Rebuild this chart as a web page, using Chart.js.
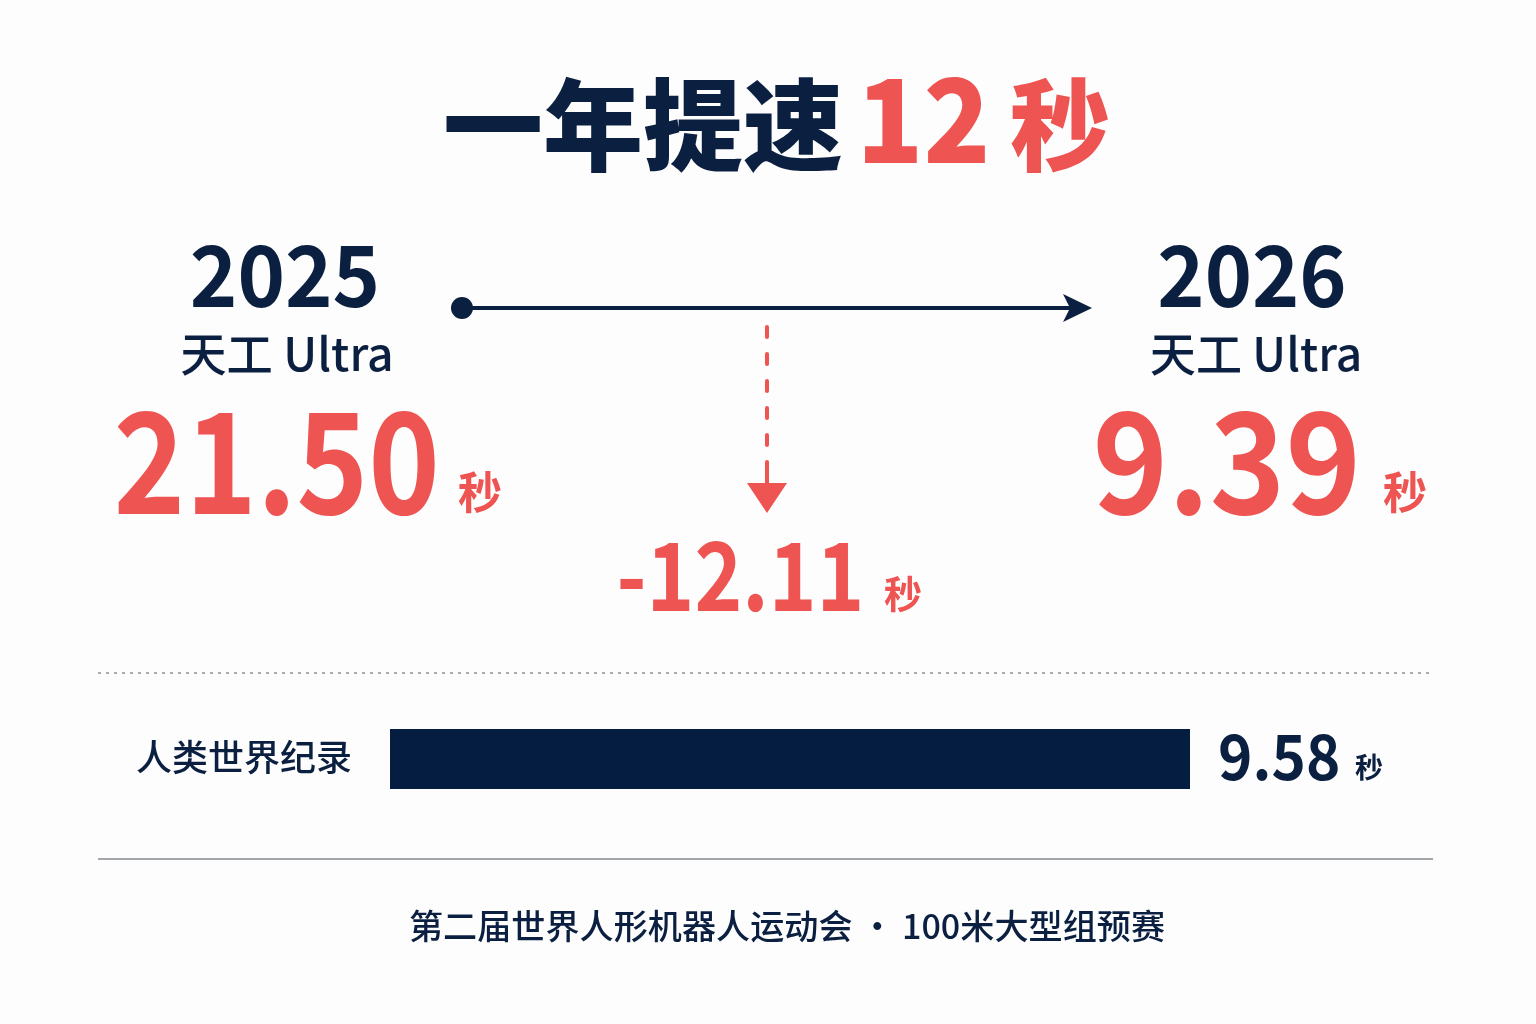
<!DOCTYPE html>
<html>
<head>
<meta charset="utf-8">
<script src="https://cdn.jsdelivr.net/npm/chart.js@4"></script>
<style>
  html, body { margin: 0; padding: 0; background: #fdfdfd; }
  #wrap { width: 1536px; height: 1024px; position: relative; }
</style>
</head>
<body>
<div id="wrap"><canvas id="chart" width="1536" height="1024"></canvas></div>
<script>
// data
const title = ['一年提速', '12', '秒'];
const years = ['2025', '2026'];
const robotName = '天工 Ultra';
const robotTimes = [21.50, 9.39];
const recordLabel = ['人类世界纪录'];
const recordTimes = [9.58];
const unit = '秒';
const footer = '第二届世界人形机器人运动会 · 100米大型组预赛';

const NAVY = '#0b1f40';
const RED = '#ee5451';
const FONT = "'Noto Sans CJK SC', 'Noto Sans', sans-serif";

function txt(ctx, s, x, y, size, weight, color, align) {
  ctx.font = weight + ' ' + size + 'px ' + FONT;
  ctx.fillStyle = color;
  ctx.textAlign = align || 'left';
  ctx.textBaseline = 'alphabetic';
  ctx.fillText(s, x, y);
  return ctx.measureText(s).width;
}

// draws text squeezed to a given width (the numbers are narrower than the font)
function fit(ctx, s, x, y, size, weight, color, width, align) {
  ctx.font = weight + ' ' + size + 'px ' + FONT;
  const m = ctx.measureText(s);
  const real = m.actualBoundingBoxLeft + m.actualBoundingBoxRight;
  const sx = width / real;
  ctx.save();
  ctx.translate(x, y);
  ctx.scale(sx, 1);
  ctx.fillStyle = color;
  ctx.textBaseline = 'alphabetic';
  if (align === 'center') {
    ctx.textAlign = 'center';
    ctx.fillText(s, 0, 0);
  } else {
    ctx.textAlign = 'left';
    ctx.fillText(s, m.actualBoundingBoxLeft, 0);
  }
  ctx.restore();
}

const decor = {
  id: 'decor',
  afterDraw(chart) {
    const ctx = chart.ctx;
    ctx.save();

    // title
    txt(ctx, title[0], 443, 163, 100, 900, NAVY);
    fit(ctx, title[1], 865, 163, 116, 900, RED, 120);
    txt(ctx, title[2], 1010, 163, 100, 900, RED);

    // years + robot
    fit(ctx, years[0], 285, 307, 84, 700, NAVY, 184, 'center');
    fit(ctx, robotName, 287, 371, 46, 500, NAVY, 209, 'center');
    fit(ctx, years[1], 1252, 307, 84, 700, NAVY, 185, 'center');
    fit(ctx, robotName, 1256, 371, 46, 500, NAVY, 208, 'center');

    // times
    fit(ctx, robotTimes[0].toFixed(2), 117, 514, 140, 700, RED, 318);
    txt(ctx, unit, 458, 509, 44, 700, RED);
    fit(ctx, robotTimes[1].toFixed(2), 1097, 514, 140, 700, RED, 258);
    txt(ctx, unit, 1383, 509, 44, 700, RED);

    // difference
    const diff = (robotTimes[0] - robotTimes[1]).toFixed(2);
    fit(ctx, '-' + diff, 620, 611, 95, 700, RED, 240);
    txt(ctx, unit, 884, 608, 38, 700, RED);

    // timeline arrow
    ctx.fillStyle = NAVY;
    ctx.strokeStyle = NAVY;
    ctx.beginPath();
    ctx.arc(462, 308, 11, 0, Math.PI * 2);
    ctx.fill();
    ctx.lineWidth = 4;
    ctx.beginPath();
    ctx.moveTo(462, 308);
    ctx.lineTo(1070, 308);
    ctx.stroke();
    ctx.beginPath();
    ctx.moveTo(1092, 308);
    ctx.lineTo(1063, 294);
    ctx.lineTo(1070, 308);
    ctx.lineTo(1063, 322);
    ctx.closePath();
    ctx.fill();

    // red dashed down arrow
    ctx.strokeStyle = RED;
    ctx.fillStyle = RED;
    ctx.lineWidth = 4;
    ctx.lineCap = 'round';
    ctx.setLineDash([10, 17]);
    ctx.beginPath();
    ctx.moveTo(767, 327);
    ctx.lineTo(767, 470);
    ctx.stroke();
    ctx.setLineDash([]);
    ctx.beginPath();
    ctx.moveTo(767, 466);
    ctx.lineTo(767, 486);
    ctx.stroke();
    ctx.beginPath();
    ctx.moveTo(747, 483);
    ctx.lineTo(787, 483);
    ctx.lineTo(767, 513);
    ctx.closePath();
    ctx.fill();
    ctx.lineCap = 'butt';

    // dotted separator
    ctx.strokeStyle = '#a9adb3';
    ctx.lineWidth = 2;
    ctx.setLineDash([3, 5]);
    ctx.beginPath();
    ctx.moveTo(98, 673);
    ctx.lineTo(1433, 673);
    ctx.stroke();
    ctx.setLineDash([]);

    // record labels
    txt(ctx, recordLabel[0], 136, 771, 36, 500, NAVY);
    const a = chart.chartArea;
    fit(ctx, recordTimes[0].toFixed(2), a.right + 30, 780, 62, 700, NAVY, 118);
    txt(ctx, unit, 1355, 778, 28, 700, NAVY);

    // solid separator
    ctx.strokeStyle = '#a3a6ab';
    ctx.lineWidth = 2;
    ctx.beginPath();
    ctx.moveTo(98, 859);
    ctx.lineTo(1433, 859);
    ctx.stroke();

    fit(ctx, footer, 787, 939, 34, 500, NAVY, 755, 'center');
    ctx.restore();
  }
};

new Chart(document.getElementById('chart'), {
  type: 'bar',
  data: {
    labels: recordLabel,
    datasets: [{
      data: recordTimes,
      backgroundColor: '#061d42',
      borderWidth: 0,
      borderSkipped: false,
      barPercentage: 1,
      categoryPercentage: 1
    }]
  },
  options: {
    indexAxis: 'y',
    responsive: false,
    animation: false,
    layout: { padding: { left: 390, right: 346, top: 729, bottom: 235 } },
    scales: {
      x: { display: false, min: 0, max: 9.58 },
      y: { display: false }
    },
    plugins: { legend: { display: false }, tooltip: { enabled: false } }
  },
  plugins: [decor]
});
</script>
</body>
</html>
